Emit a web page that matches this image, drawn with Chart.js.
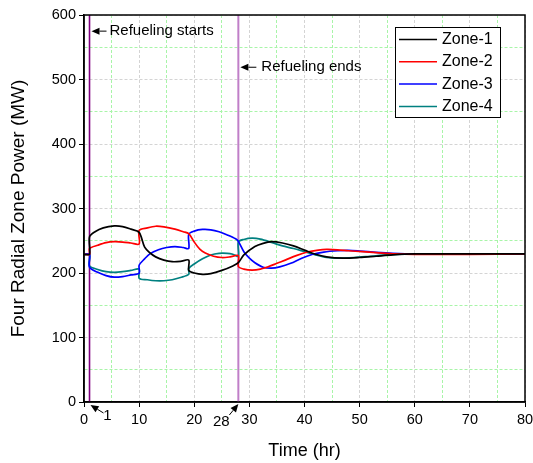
<!DOCTYPE html>
<html>
<head>
<meta charset="utf-8">
<script src="https://cdn.jsdelivr.net/npm/chart.js@4.4.1/dist/chart.umd.min.js"></script>
<style>
  html, body { margin: 0; padding: 0; background: #fff; }
</style>
</head>
<body>
<canvas id="chart" width="533" height="463"></canvas>
<script>
// data: [time (hr), power (MW)]
const zoneNames = ["Zone-1", "Zone-2", "Zone-3", "Zone-4"];
const zoneColors = ["#000000", "#ff0000", "#0000ff", "#008080"];

const zone1 = [[0,229],[1,229],[1,256],[2,264],[3.5,270],[5.5,273],[7,272],[8.5,268],[10,263],[11,240],[12,231],[13,225],[14.5,220],[16,217.5],[17.5,218],[19,220],
  [19,204],[20,200],[21.5,198],[23,199],[25,204],[27,211],[28,216],[29,228],[31,241],[32.5,246],[34,248.5],[36,246.5],[38,242],[40,235.5],[42,229],[44,225],
  [47,223],[50,224],[53,226],[56,228],[60,229.5],[65,229.5],[70,229.5],[80,229.5]];

const zone2 = [[0,229],[1,229],[1,238],[2.5,243],[4,247],[5.5,248.5],[7,248],[8.5,246.5],[10,245],[10,266],[11.5,270],[13,272.5],[14.5,271.5],[16.5,268],[18,264],[19,261],
  [20,248],[21,237],[22,231],[23.5,226],[25,224],[26.5,225],[28,227],[28,210],[29,206],[30.5,204.5],[32,206],[33.5,210],[35,215],[36.5,220],[38.5,227],
  [40.5,232.5],[42.5,235.5],[44,236.5],[46,236],[48,234.5],[50.5,233],[53,231.5],[56.5,229.5],[60,229],[70,229],[80,229.5]];

const zone3 = [[0,229],[1,229],[1,209],[2.5,201],[4,196],[5.5,193.5],[7,194.5],[8.5,197],[10,199.5],[10,212],[11,222],[12,230],[13.5,236],[15,239.5],[16.5,241],[18,239.5],[19,238],
  [19,260],[20,265],[21.5,267.5],[23,267],[24.5,264],[26,259],[27.5,253],[28,249],[29,233],[30,223],[31,216],[32.5,209],[34,207.5],[35.5,209.5],[37.5,215],
  [39.5,223],[41.5,229],[43.5,232.5],[46,234.5],[48,235],[50,234],[53,232],[56,230.5],[60,229.5],[70,229.5],[80,229.5]];

const zone4 = [[0,229],[1,229],[1,211],[2.5,205.5],[4,202],[5.5,201],[7,202],[8.5,204],[10,206],[10,192],[11.5,189.5],[13,188],[14.5,188],[16,189.5],[17.5,193],[19,198],
  [19,207],[20,214],[21.5,222],[23,228],[24.5,230.5],[26,230.5],[27,229],[28,226],[28,248],[29,252],[30.5,254],[32,252.5],[34,247.5],[36,242],[38,238],
  [40,233],[42,228],[44,224],[46,223],[49,224],[52,226],[55,228],[60,229.5],[70,229.5],[80,229.5]];

const refuelStart = 1;
const refuelEnd = 28;
const xTicks = [0, 10, 20, 30, 40, 50, 60, 70, 80];
const yTicks = [0, 100, 200, 300, 400, 500, 600];

const zones = [zone1, zone2, zone3, zone4];
const FONT = "'Liberation Sans', Arial, sans-serif";

const datasets = zones.map((z, i) => ({
  label: zoneNames[i],
  data: z.map(p => ({ x: p[0], y: p[1] })),
  borderColor: zoneColors[i],
  borderWidth: 1.7,
  pointRadius: 0,
  tension: 0.3,
  order: 0
}));
datasets.push({
  label: "start",
  data: [{ x: refuelStart, y: 0 }, { x: refuelStart, y: 600 }],
  borderColor: "#800080", borderWidth: 1.6, pointRadius: 0, order: 1
});
datasets.push({
  label: "end",
  data: [{ x: refuelEnd, y: 0 }, { x: refuelEnd, y: 600 }],
  borderColor: "#c07fc8", borderWidth: 2, pointRadius: 0, order: 1
});

function arrow(ctx, x1, y1, x2, y2) {
  // head at (x2, y2)
  const ang = Math.atan2(y2 - y1, x2 - x1);
  const len = 8, w = 3.5;
  const bx = x2 - len * Math.cos(ang), by = y2 - len * Math.sin(ang);
  ctx.beginPath();
  ctx.moveTo(x1, y1);
  ctx.lineTo(bx, by);
  ctx.stroke();
  ctx.beginPath();
  ctx.moveTo(x2, y2);
  ctx.lineTo(bx + w * Math.sin(ang), by - w * Math.cos(ang));
  ctx.lineTo(bx - w * Math.sin(ang), by + w * Math.cos(ang));
  ctx.closePath();
  ctx.fill();
}

const extras = {
  id: "extras",
  afterDraw(chart) {
    const { ctx, chartArea: a, scales: { x, y } } = chart;
    ctx.save();
    ctx.setLineDash([]);
    ctx.strokeStyle = "#000";
    ctx.fillStyle = "#000";
    ctx.lineWidth = 1.5;
    ctx.strokeRect(a.left, a.top, a.right - a.left, a.bottom - a.top);

    // legend box
    const lx = a.right - 130, ly = a.top + 12, lw = 105, lh = 90;
    ctx.fillStyle = "#fff";
    ctx.fillRect(lx, ly, lw, lh);
    ctx.lineWidth = 1;
    ctx.strokeRect(lx + 0.5, ly + 0.5, lw, lh);
    ctx.font = "16px " + FONT;
    ctx.textBaseline = "middle";
    ctx.textAlign = "left";
    zoneNames.forEach((n, i) => {
      const ry = ly + 12.5 + i * 22.3;
      ctx.strokeStyle = zoneColors[i];
      ctx.lineWidth = 1.5;
      ctx.beginPath();
      ctx.moveTo(lx + 4, ry);
      ctx.lineTo(lx + 42, ry);
      ctx.stroke();
      ctx.fillStyle = "#000";
      ctx.fillText(n, lx + 47, ry);
    });

    // notes
    ctx.strokeStyle = "#000";
    ctx.fillStyle = "#000";
    ctx.lineWidth = 1;
    ctx.font = "15px " + FONT;
    const xs = x.getPixelForValue(refuelStart), xe = x.getPixelForValue(refuelEnd);
    const y0 = y.getPixelForValue(0);
    let ty = y.getPixelForValue(575);
    arrow(ctx, xs + 17, ty, xs + 2, ty);
    ctx.fillText("Refueling starts", xs + 20, ty);
    ty = y.getPixelForValue(519);
    arrow(ctx, xe + 18, ty, xe + 2, ty);
    ctx.fillText("Refueling ends", xe + 23, ty);

    arrow(ctx, xs + 14, y0 + 11, xs + 1, y0 + 3);
    ctx.textAlign = "center";
    ctx.fillText(String(refuelStart), xs + 18, y0 + 14);
    arrow(ctx, xe - 9, y0 + 13, xe, y0 + 2);
    ctx.fillText(String(refuelEnd), xe - 17, y0 + 20);
    ctx.restore();
  }
};

const gridColor = (ctx, step) =>
  ctx.tick && ctx.tick.value % step === 0 ? "#d4d4d4" : "#a8f5a8";

new Chart(document.getElementById("chart"), {
  type: "line",
  data: { datasets },
  options: {
    responsive: false,
    animation: false,
    devicePixelRatio: 1,
    layout: { padding: { top: 15, right: 8, left: 0, bottom: 0 } },
    plugins: { legend: { display: false }, tooltip: { enabled: false } },
    scales: {
      x: {
        type: "linear", min: 0, max: 80,
        afterFit: s => { s.height = 61; s.paddingLeft = 0; s.paddingRight = 0; },
        ticks: {
          stepSize: 5, autoSkip: false, maxRotation: 0, padding: 4, color: "#000",
          font: { family: FONT, size: 14.5 },
          callback: v => xTicks.includes(v) ? String(v) : ""
        },
        grid: {
          color: c => gridColor(c, 10), lineWidth: 1, tickLength: 5,
          tickColor: c => c.tick && c.tick.value % 10 === 0 ? "#000" : "rgba(0,0,0,0)"
        },
        border: { display: true, color: "#000", width: 1.5, dash: [3, 2] },
        title: { display: true, text: "Time (hr)", color: "#000", font: { family: FONT, size: 18 }, padding: { top: 0, bottom: 1 } }
      },
      y: {
        min: 0, max: 600,
        afterFit: s => { s.width = 84; s.paddingTop = 0; s.paddingBottom = 0; },
        ticks: {
          stepSize: 50, autoSkip: false, padding: 3, color: "#000",
          font: { family: FONT, size: 14.5 },
          callback: v => yTicks.includes(v) ? String(v) : ""
        },
        grid: {
          color: c => gridColor(c, 100), lineWidth: 1, tickLength: 5,
          tickColor: c => c.tick && c.tick.value % 100 === 0 ? "#000" : "rgba(0,0,0,0)"
        },
        border: { display: true, color: "#000", width: 1.5, dash: [3, 2] },
        title: { display: true, text: "Four Radial Zone Power (MW)", color: "#000", font: { family: FONT, size: 19 }, padding: { top: 7, bottom: 0 } }
      }
    }
  },
  plugins: [extras]
});
</script>
</body>
</html>
